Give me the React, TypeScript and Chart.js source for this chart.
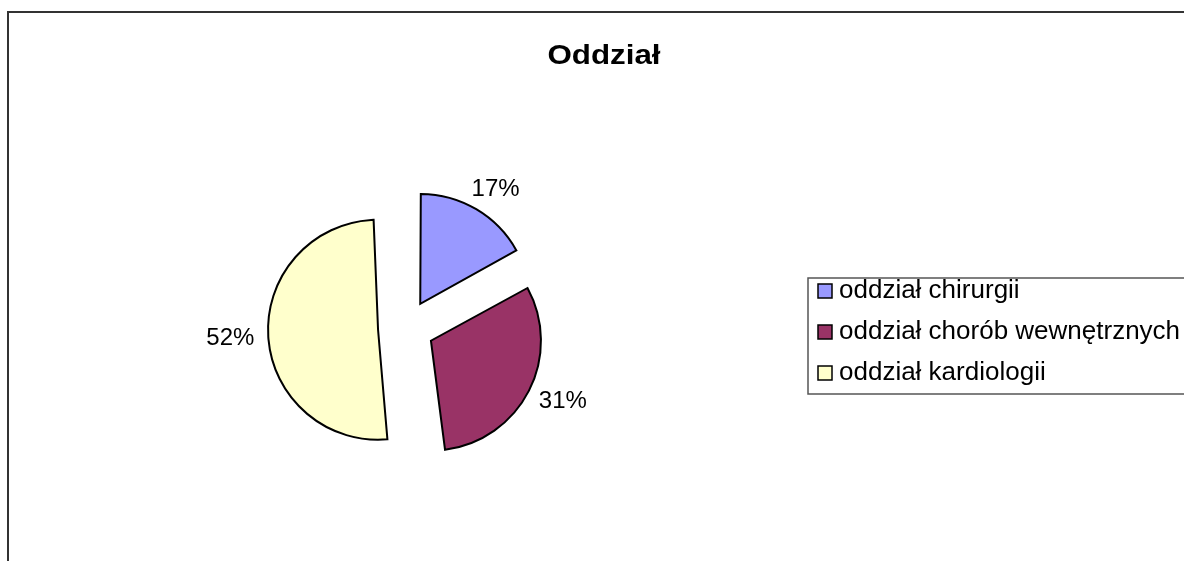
import React, { useEffect, useRef } from 'react';
import { Chart, registerables } from 'chart.js';

Chart.register(...registerables);

const TITLE = 'Oddział';
const categories = ['oddział chirurgii', 'oddział chorób wewnętrznych', 'oddział kardiologii'];
const values = [17, 31, 52];
const percentLabels = ['17%', '31%', '52%'];
const colors = ['#9999FF', '#993366', '#FFFFCC'];

const FONT = '"Liberation Sans", Arial, Helvetica, sans-serif';
const RADIUS = 110;
const EXPLODE = 28;
const LABEL_GAP = 14;

const framePlugin = {
  id: 'frame',
  beforeDraw(chart: any) {
    const ctx = chart.ctx;
    ctx.save();
    ctx.fillStyle = '#ffffff';
    ctx.fillRect(0, 0, chart.width, chart.height);
    ctx.strokeStyle = '#333333';
    ctx.lineWidth = 2;
    ctx.beginPath();
    ctx.moveTo(8, chart.height + 10);
    ctx.lineTo(8, 12);
    ctx.lineTo(chart.width + 10, 12);
    ctx.stroke();
    ctx.restore();
  },
};

const radiusFixPlugin = {
  id: 'radiusFix',
  beforeDatasetsDraw(chart: any) {
    const meta = chart.getDatasetMeta(0);
    meta.data.forEach((arc: any) => {
      const circ = arc.endAngle - arc.startAngle;
      const fix = 1 - Math.sin(Math.min(Math.PI, circ));
      arc.outerRadius = RADIUS - EXPLODE * fix;
    });
  },
};

const titlePlugin = {
  id: 'customTitle',
  afterDraw(chart: any) {
    const ctx = chart.ctx;
    ctx.save();
    ctx.font = `bold 27px ${FONT}`;
    ctx.fillStyle = '#000000';
    ctx.textAlign = 'center';
    ctx.textBaseline = 'middle';
    ctx.translate(604, 57);
    ctx.scale(1.16, 1);
    ctx.fillText(TITLE, 0, 0);
    ctx.restore();
  },
};

const percentPlugin = {
  id: 'percentLabels',
  afterDatasetsDraw(chart: any) {
    const ctx = chart.ctx;
    const meta = chart.getDatasetMeta(0);
    ctx.save();
    ctx.font = `24px ${FONT}`;
    ctx.fillStyle = '#000000';
    ctx.textAlign = 'center';
    ctx.textBaseline = 'middle';
    meta.data.forEach((arc: any, i: number) => {
      const mid = (arc.startAngle + arc.endAngle) / 2;
      const c = Math.cos(mid);
      const s = Math.sin(mid);
      const text = percentLabels[i];
      const w = ctx.measureText(text).width;
      const h = 18;
      const d = EXPLODE + RADIUS + LABEL_GAP;
      const x = arc.x + d * c + (w / 2) * c;
      const y = arc.y + d * s + (h / 2) * s;
      ctx.fillText(text, x, y);
    });
    ctx.restore();
  },
};

const legendPlugin = {
  id: 'customLegend',
  afterDraw(chart: any) {
    const ctx = chart.ctx;
    const labels: string[] = chart.data.labels;
    const bg: string[] = chart.data.datasets[0].backgroundColor;
    ctx.save();
    ctx.strokeStyle = '#555555';
    ctx.lineWidth = 1.5;
    ctx.beginPath();
    ctx.moveTo(chart.width + 10, 278);
    ctx.lineTo(808, 278);
    ctx.lineTo(808, 394);
    ctx.lineTo(chart.width + 10, 394);
    ctx.stroke();
    ctx.font = `26px ${FONT}`;
    ctx.textAlign = 'left';
    ctx.textBaseline = 'middle';
    labels.forEach((lab, i) => {
      const y = 291 + i * 41;
      ctx.fillStyle = bg[i];
      ctx.fillRect(818, y - 7, 14, 14);
      ctx.strokeStyle = '#000000';
      ctx.lineWidth = 1.5;
      ctx.strokeRect(818, y - 7, 14, 14);
      ctx.fillStyle = '#000000';
      ctx.fillText(lab, 839, y);
    });
    ctx.restore();
  },
};

export default function App() {
  const ref = useRef<HTMLCanvasElement | null>(null);

  useEffect(() => {
    if (!ref.current) return;
    const chart = new Chart(ref.current, {
      type: 'pie',
      data: {
        labels: categories,
        datasets: [
          {
            data: values,
            backgroundColor: colors,
            borderColor: '#000000',
            borderWidth: 2,
            borderJoinStyle: 'miter',
            offset: EXPLODE * 4,
            hoverOffset: 0,
          } as any,
        ],
      },
      options: {
        animation: false,
        responsive: false,
        devicePixelRatio: 1,
        radius: RADIUS,
        layout: { padding: { left: 0, right: 372, top: 95, bottom: 0 } },
        events: [],
        plugins: {
          legend: { display: false },
          title: { display: false },
          tooltip: { enabled: false },
        },
      } as any,
      plugins: [framePlugin, radiusFixPlugin, percentPlugin, titlePlugin, legendPlugin],
    });
    return () => chart.destroy();
  }, []);

  return (
    <div style={{ position: 'absolute', left: 0, top: 0, width: 1184, height: 561 }}>
      <canvas ref={ref} width={1184} height={561} style={{ display: 'block' }} />
    </div>
  );
}
